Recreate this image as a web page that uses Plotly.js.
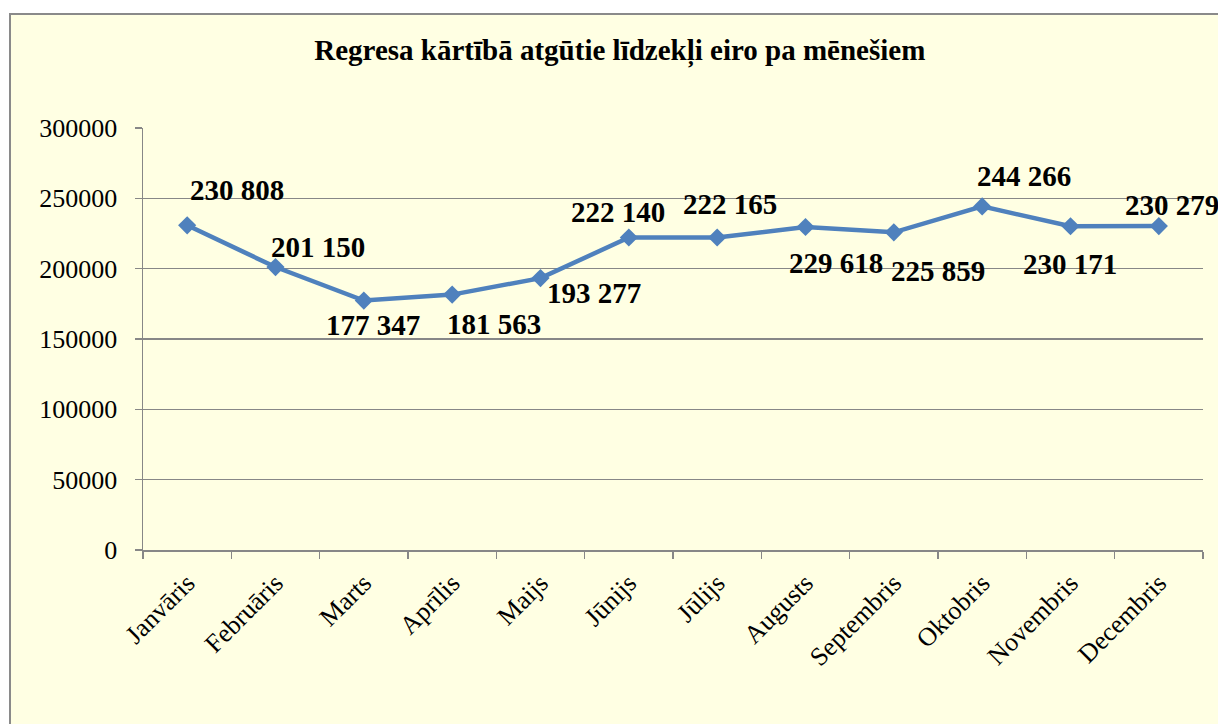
<!DOCTYPE html>
<html>
<head>
<meta charset="utf-8">
<script src="https://cdn.plot.ly/plotly-3.0.1.min.js"></script>
<style>
  html, body { margin:0; padding:0; background:#ffffff; overflow:hidden; width:1218px; height:724px; }
  #frame { position:absolute; left:9px; top:13px; border:2px solid #8a8a8a; background:#FFFFE3; width:1260px; height:780px; }
  #chart { width:1240px; height:760px; }
</style>
</head>
<body>
<div id="frame"><div id="chart"></div></div>
<script>
// ---- data ----
const titleText = 'Regresa kārtībā atgūtie līdzekļi eiro pa mēnešiem';
const months = ['Janvāris','Februāris','Marts','Aprīlis','Maijs','Jūnijs','Jūlijs','Augusts','Septembris','Oktobris','Novembris','Decembris'];
const values = [230808, 201150, 177347, 181563, 193277, 222140, 222165, 229618, 225859, 244266, 230171, 230279];

// ---- label placement (layout only, px offsets from each point) ----
const labelShiftX = [50, 42, 9, 42, 53, -11, 13, 30, 44, 42, -1, 13];
const labelShiftY = [35, 20, -24, -29, -15, 26, 33, -36, -39, 30, -38, 21];

function fmtSpace(v) {
  return String(v).replace(/\B(?=(\d{3})+(?!\d))/g, ' ');
}

const serif = "'Liberation Serif', 'Times New Roman', serif";
const gridCol = '#878787';

const trace = {
  type: 'scatter',
  mode: 'lines+markers',
  x: months,
  y: values,
  line: { color: '#4F81BD', width: 4.5 },
  marker: { symbol: 'diamond', size: 14, color: '#4F81BD' },
  hoverinfo: 'skip',
  showlegend: false
};

const annotations = values.map((v, i) => ({
  x: months[i],
  y: v,
  xref: 'x', yref: 'y',
  text: '<b>' + fmtSpace(v) + '</b>',
  showarrow: false,
  xanchor: 'center', yanchor: 'middle',
  xshift: labelShiftX[i],
  yshift: labelShiftY[i],
  font: { family: serif, size: 29, color: '#000000' }
}));

const layout = {
  width: 1240,
  height: 760,
  margin: { l: 132, r: 48, t: 113, b: 225 },
  paper_bgcolor: 'rgba(0,0,0,0)',
  plot_bgcolor: 'rgba(0,0,0,0)',
  title: {
    text: '<b>' + titleText + '</b>',
    font: { family: serif, size: 29, color: '#000000' },
    xref: 'container', yref: 'container',
    x: 0.491, xanchor: 'center',
    y: 0.954, yanchor: 'middle'
  },
  xaxis: {
    type: 'category',
    range: [-0.5, 11.5],
    tickson: 'boundaries',
    ticks: 'outside',
    ticklen: 7,
    tickwidth: 1.5,
    tickcolor: gridCol,
    showline: true,
    linecolor: gridCol,
    linewidth: 1.5,
    showgrid: false,
    zeroline: false,
    tickangle: -45,
    ticklabelstandoff: 6,
    tickfont: { family: serif, size: 26, color: '#000000' },
    fixedrange: true
  },
  yaxis: {
    range: [0, 300000],
    dtick: 50000,
    tick0: 0,
    tickformat: 'd',
    ticks: 'outside',
    ticklen: 7,
    tickwidth: 1.5,
    tickcolor: gridCol,
    showline: true,
    linecolor: gridCol,
    linewidth: 1.5,
    showgrid: true,
    gridcolor: gridCol,
    gridwidth: 1.5,
    zeroline: false,
    ticklabelstandoff: 12,
    tickfont: { family: serif, size: 26, color: '#000000' },
    fixedrange: true
  },
  annotations: annotations
};

Plotly.newPlot('chart', [trace], layout, { displayModeBar: false, staticPlot: true });
</script>
</body>
</html>
